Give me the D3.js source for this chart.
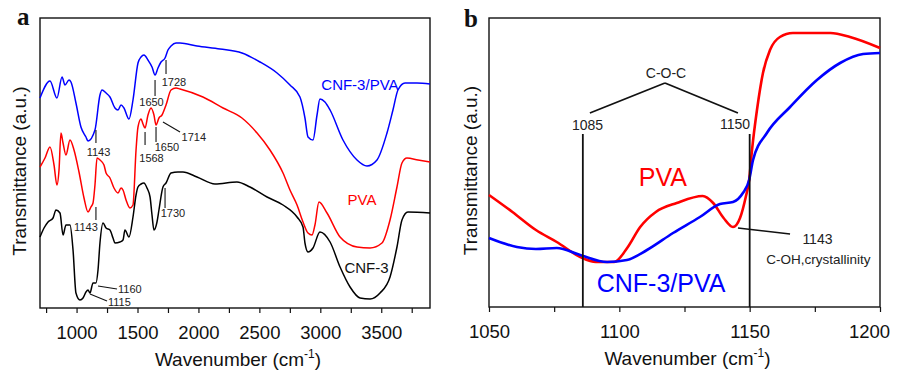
<!DOCTYPE html>
<html>
<head>
<meta charset="utf-8">
<script src="https://cdnjs.cloudflare.com/ajax/libs/d3/7.8.5/d3.min.js"></script>
<style>
  body { margin: 0; background: #fff; }
  svg { font-family: "Liberation Sans", Arial, sans-serif; }
</style>
</head>
<body>
<svg id="drawing_region"></svg>
<script>
// ---- panel a : full FTIR spectra, [wavenumber, transmittance a.u.] ----
const ticks_a = [1000, 1500, 2000, 2500, 3000, 3500];

const cnf_pva_a = [
  [700,210],[782,227],[839,210],[881,231],[905,223],[938,228],[954,226],[995,205],
  [1036,181],[1077,171],[1094,167],[1151,178],[1192,213],[1209,218],[1242,215],
  [1274,211],[1315,200],[1340,198],[1365,203],[1389,200],[1430,189],[1463,208],
  [1504,245],[1529,251],[1553,253],[1586,248],[1619,241],[1644,233],[1668,240],
  [1693,246],[1726,250],[1750,258],[1775,262],[1816,265],[1849,265],[1988,262],
  [2177,259],[2357,255],[2505,246],[2645,235],[2751,223],[2833,211],[2874,190],
  [2899,171],[2940,168],[2973,193],[2997,209],[3038,206],[3080,198],[3186,168],
  [3301,148],[3383,142],[3465,148],[3547,175],[3596,198],[3637,218],[3695,225],
  [3793,225],[3900,224]
];

const pva_a = [
  [700,141],[741,150],[782,161],[815,143],[839,123],[856,138],[872,175],[889,165],
  [913,153],[946,168],[979,158],[1020,136],[1061,110],[1094,96],[1118,101],[1135,105],
  [1151,123],[1168,150],[1192,148],[1225,143],[1242,135],[1274,130],[1307,120],
  [1340,115],[1365,120],[1381,118],[1406,108],[1438,100],[1463,103],[1488,158],
  [1504,181],[1529,189],[1545,184],[1562,180],[1586,193],[1611,200],[1635,193],
  [1652,183],[1676,190],[1701,193],[1734,203],[1775,218],[1816,220],[1849,219],
  [2037,211],[2202,200],[2357,190],[2481,175],[2587,158],[2694,135],[2751,118],
  [2809,103],[2858,86],[2899,75],[2932,73],[2956,83],[2989,106],[3055,95],[3162,71],
  [3301,61],[3408,60],[3506,65],[3572,88],[3629,121],[3670,145],[3711,150],
  [3802,148],[3900,146]
];

const cnf3_a = [
  [700,71],[733,80],[766,86],[807,90],[831,98],[864,95],[889,73],[913,83],[946,83],
  [971,58],[995,15],[1028,8],[1053,10],[1077,16],[1094,18],[1110,15],[1135,25],
  [1159,25],[1176,38],[1192,65],[1217,85],[1242,80],[1274,78],[1299,70],[1315,65],
  [1356,66],[1381,68],[1397,78],[1430,71],[1463,91],[1488,113],[1504,121],[1529,124],
  [1553,125],[1578,120],[1603,111],[1619,93],[1635,78],[1660,86],[1676,98],[1709,121],
  [1734,125],[1775,135],[1832,136],[1873,136],[1988,131],[2136,124],[2316,126],
  [2423,121],[2563,111],[2694,103],[2809,91],[2858,81],[2874,65],[2899,56],[2940,60],
  [2997,76],[3080,66],[3162,41],[3244,21],[3326,10],[3408,9],[3490,15],[3572,31],
  [3629,61],[3670,88],[3719,96],[3900,95]
];

// peak marks: text, line from [wn,T] to [wn,T], text position [wn,T]
const peaks_a = [
  {text:'1728', from:[1734,248], to:[1734,234], at:[1799,226], anchor:'middle'},
  {text:'1650', from:[1644,228], to:[1644,212], at:[1615,206], anchor:'middle'},
  {text:'1143', from:[1159,178], to:[1159,165], at:[1180,156], anchor:'middle'},
  {text:'1568', from:[1562,176], to:[1562,163], at:[1615,150], anchor:'middle'},
  {text:'1650', from:[1652,181], to:[1652,166], at:[1742,161], anchor:'middle'},
  {text:'1714', from:[1709,186], to:[1849,176], at:[1862,171], anchor:'start'},
  {text:'1143', from:[1159,101], to:[1159,88], at:[1077,81], anchor:'middle'},
  {text:'1730', from:[1726,120], to:[1726,100], at:[1791,95], anchor:'middle'},
  {text:'1160', from:[1176,22], to:[1332,19], at:[1340,19], anchor:'start'},
  {text:'1115', from:[1110,14], to:[1250,7], at:[1258,6], anchor:'start'}
];

// ---- panel b : 1050-1200 zoom ----
const ticks_b = [1050, 1100, 1150, 1200];

const pva_b = [
  [1050,112],[1059,95],[1068,77],[1076,65],[1085,50],[1091,45],[1098,45],[1103,59],
  [1108,80],[1114,95],[1122,104],[1132,111],[1136,104],[1140,89],[1143.6,80],
  [1146.3,89],[1148.5,110],[1149.8,127],[1150.9,157],[1152.8,197],[1155.1,234],
  [1157.8,257],[1161.6,270],[1166.6,274],[1172,274],[1181,274],[1188.5,270],[1200,259]
];

const cnf_pva_b = [
  [1050,69],[1060.7,60],[1068,58],[1076,59],[1085,52],[1095.3,45],[1102.9,47],
  [1110.6,57],[1120.6,74],[1130.9,90],[1138.6,103],[1143.6,105],[1147.4,114],
  [1149.8,127],[1151.3,147],[1156.6,174],[1165.5,200],[1175.8,227],[1184.7,244],
  [1193.5,253],[1200,254]
];

const marks_b = [1086, 1150];


class SpectrumPanel {

  constructor( config ) {
    this.config = config;
    this.init();
  }

  init() {
    let self = this;
    let c = self.config;

    self.chart = d3.select( c.parent ).append('g')
      .attr('transform', `translate(${c.left}, ${c.top})`);

    self.xscale = d3.scaleLinear()
      .domain( c.xdomain )
      .range([0, c.width]);

    self.yscale = d3.scaleLinear()
      .domain( c.ydomain )
      .range([c.height, 0]);

    let first = Math.ceil( c.xdomain[0] / c.minor ) * c.minor;
    self.xaxis = d3.axisBottom( self.xscale )
      .tickValues( d3.range(first, c.xdomain[1] + 1, c.minor) )
      .tickFormat( d => c.labels.includes(d) ? d : '' )
      .tickSize(5)
      .tickPadding(13)
      .tickSizeOuter(0);

    self.line = d3.line()
      .x( d => self.xscale(d[0]) )
      .y( d => self.yscale(d[1]) )
      .curve( d3.curveMonotoneX );
  }

  render() {
    let self = this;
    let c = self.config;

    let ax = self.chart.append('g')
      .attr('transform', `translate(0, ${c.height})`)
      .call( self.xaxis );
    ax.select('.domain').remove();
    ax.selectAll('line').attr('stroke', '#111').attr('stroke-width', 1.2);
    ax.selectAll('text')
      .attr('font-size', '18.5px')
      .attr('font-family', '"Liberation Sans", Arial, sans-serif')
      .attr('fill', '#111');
    // last label pulled in so it stays on the page
    if (c.lastLabelDx) {
      ax.selectAll('text').filter( d => d === c.xdomain[1] ).attr('dx', c.lastLabelDx);
    }

    self.chart.append('rect')
      .attr('width', c.width)
      .attr('height', c.height)
      .attr('fill', 'none')
      .attr('stroke', '#111')
      .attr('stroke-width', 1.4);

    c.series.forEach( s => {
      self.chart.append('path')
        .datum( s.data )
        .attr('fill', 'none')
        .attr('stroke', s.color)
        .attr('stroke-width', c.lineWidth)
        .attr('stroke-linejoin', 'round')
        .attr('d', self.line);
    });

    // axis titles
    let xt = self.chart.append('text')
      .attr('x', c.width / 2 + 3)
      .attr('y', c.height + 58)
      .attr('text-anchor', 'middle')
      .attr('font-size', '19px')
      .attr('fill', '#111');
    xt.append('tspan').text('Wavenumber (cm');
    xt.append('tspan').attr('dy', -8).attr('font-size', '12px').text('-1');
    xt.append('tspan').attr('dy', 8).text(')');

    self.chart.append('text')
      .attr('transform', `translate(${c.ytitleX}, ${c.height / 2 + 8}) rotate(-90)`)
      .attr('text-anchor', 'middle')
      .attr('font-size', '19px')
      .attr('fill', '#111')
      .text('Transmittance (a.u.)');

    self.chart.append('text')
      .attr('x', c.letterX)
      .attr('y', c.letterY)
      .attr('font-family', '"Liberation Serif", "Times New Roman", serif')
      .attr('font-weight', 'bold')
      .attr('font-size', '25px')
      .attr('fill', '#111')
      .text( c.letter );
  }

  label( text, pos, opts ) {
    let self = this;
    self.chart.append('text')
      .attr('x', self.xscale(pos[0]))
      .attr('y', self.yscale(pos[1]))
      .attr('dy', '0.36em')
      .attr('text-anchor', opts.anchor || 'middle')
      .attr('font-size', opts.size)
      .attr('fill', opts.color || '#222')
      .text( text );
  }

  segment( p0, p1, width ) {
    let self = this;
    self.chart.append('line')
      .attr('x1', self.xscale(p0[0])).attr('y1', self.yscale(p0[1]))
      .attr('x2', self.xscale(p1[0])).attr('y2', self.yscale(p1[1]))
      .attr('stroke', '#111')
      .attr('stroke-width', width || 1.2);
  }
}


d3.select('#drawing_region')
  .attr('width', 898)
  .attr('height', 371);

// panel a
const panel_a = new SpectrumPanel({
  parent: '#drawing_region',
  left: 40, top: 18, width: 390, height: 290,
  xdomain: [700, 3900], ydomain: [0, 290],
  minor: 250, labels: ticks_a,
  lineWidth: 1.5,
  ytitleX: -14, letterX: -23, letterY: 7, letter: 'a',
  series: [
    {data: cnf_pva_a, color: '#0000ff'},
    {data: pva_a, color: '#ff0000'},
    {data: cnf3_a, color: '#000000'}
  ]
});
panel_a.render();

peaks_a.forEach( p => {
  panel_a.segment( p.from, p.to, 1.1 );
  panel_a.label( p.text, p.at, {size: '11px', anchor: p.anchor} );
});
panel_a.label('CNF-3/PVA', [3325, 223], {size: '15px', color: '#0000ff'});
panel_a.label('PVA', [3342, 108], {size: '15px', color: '#ff0000'});
panel_a.label('CNF-3', [3379, 40], {size: '15px', color: '#111'});

// panel b
const panel_b = new SpectrumPanel({
  parent: '#drawing_region',
  left: 489, top: 18, width: 391, height: 289,
  xdomain: [1050, 1200], ydomain: [0, 289],
  minor: 25, labels: ticks_b,
  lineWidth: 2.6, lastLabelDx: -11,
  ytitleX: -12, letterX: -25, letterY: 9, letter: 'b',
  series: [
    {data: pva_b, color: '#ff0000'},
    {data: cnf_pva_b, color: '#0000ff'}
  ]
});
panel_b.render();

marks_b.forEach( m => panel_b.segment([m, 173], [m, 0], 1.8) );
panel_b.segment([1088.7, 194], [1117.5, 224], 1.8);
panel_b.segment([1117.5, 224], [1145.5, 194], 1.8);
panel_b.label('C-O-C', [1117.9, 234], {size: '14px'});
panel_b.label('1085', [1087.8, 182], {size: '14px'});
panel_b.label('1150', [1144.4, 183], {size: '14px'});
panel_b.label('PVA', [1116.7, 130], {size: '25px', color: '#ff0000'});
panel_b.label('CNF-3/PVA', [1116, 24], {size: '25px', color: '#0000ff'});
panel_b.segment([1145.5, 79], [1165.5, 73], 1.5);
panel_b.label('1143', [1176, 68], {size: '14px'});
panel_b.label('C-OH,crystallinity', [1176.4, 48], {size: '13.5px'});
</script>
</body>
</html>
